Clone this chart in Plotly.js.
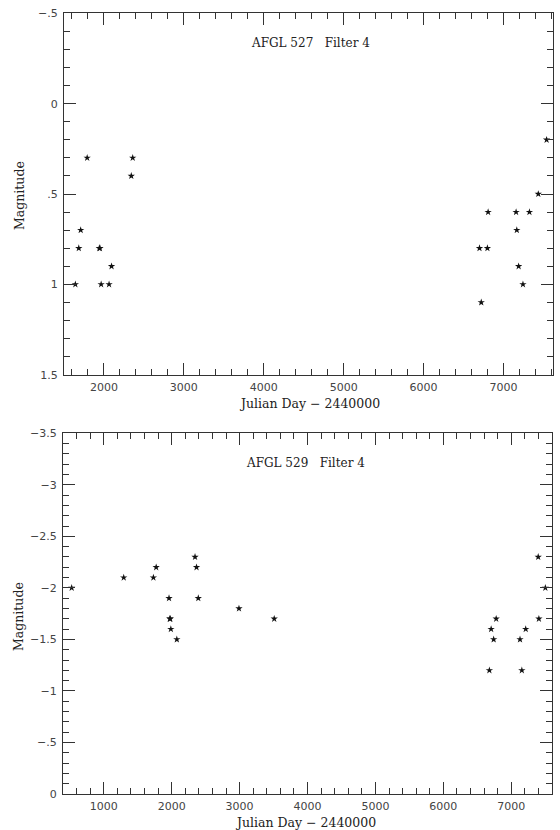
<!DOCTYPE html>
<html>
<head>
<meta charset="utf-8">
<script src="https://cdn.plot.ly/plotly-3.0.1.min.js"></script>
<style>html,body{margin:0;padding:0;background:#fff;}#chart{width:560px;height:830px;}</style>
</head>
<body>
<div id="chart"></div>
<script>
// AFGL 527, Filter 4
const jd527 = [1642, 1685, 1709, 1790, 1942, 1950, 1965, 2064, 2095, 2342, 2360,
               6700, 6722, 6799, 6808, 7158, 7167, 7190, 7244, 7325, 7436, 7540];
const mag527 = [1.0, 0.8, 0.7, 0.3, 0.8, 0.8, 1.0, 1.0, 0.9, 0.4, 0.3,
                0.8, 1.1, 0.8, 0.6, 0.6, 0.7, 0.9, 1.0, 0.6, 0.5, 0.2];

// AFGL 529, Filter 4
const jd529 = [528, 1294, 1731, 1772, 1961, 1972, 1980, 1988, 2076, 2344, 2366, 2392, 2991, 3510,
               6678, 6704, 6741, 6778, 7129, 7156, 7213, 7397, 7407, 7502];
const mag529 = [-2.0, -2.1, -2.1, -2.2, -1.9, -1.7, -1.7, -1.6, -1.5, -2.3, -2.2, -1.9, -1.8, -1.7,
                -1.2, -1.6, -1.5, -1.7, -1.5, -1.2, -1.6, -2.3, -1.7, -2.0];

const yTickVals527 = [-0.5, 0, 0.5, 1, 1.5];
const yTickText527 = ["\u2212.5", "0", ".5", "1", "1.5"];
const yTickVals529 = [-3.5, -3, -2.5, -2, -1.5, -1, -0.5, 0];
const yTickText529 = ["\u22123.5", "\u22123", "\u22122.5", "\u22122", "\u22121.5", "\u22121", "\u2212.5", "0"];

const title527 = "AFGL 527\u00a0\u00a0\u00a0Filter 4";
const title529 = "AFGL 529\u00a0\u00a0\u00a0Filter 4";
const xTitle = "Julian Day \u2212 2440000";
const yTitle = "Magnitude";

const W = 560, H = 830;
const ink = '#333';
const serif = {family: 'DejaVu Serif, serif', size: 12, color: '#222'};
const axisTitleFont = {family: 'DejaVu Serif, serif', size: 12.5, color: '#222'};
const tickFont = {family: 'DejaVu Sans, sans-serif', size: 11, color: '#444'};

const marker = {symbol: 'star', size: 5.5, color: '#111', line: {width: 0}};

const traces = [
  {x: jd527, y: mag527, xaxis: 'x', yaxis: 'y', type: 'scatter', mode: 'markers', marker: marker, showlegend: false},
  {x: jd529, y: mag529, xaxis: 'x2', yaxis: 'y2', type: 'scatter', mode: 'markers', marker: marker, showlegend: false}
];

function xAxis(domain, range, anchor) {
  return {
    domain: domain, range: range, anchor: anchor,
    tickmode: 'linear', tick0: 0, dtick: 1000,
    ticks: 'inside', ticklen: 12, tickwidth: 1, tickcolor: ink,
    minor: {tickmode: 'linear', tick0: 0, dtick: 200, ticks: 'inside', ticklen: 6, tickwidth: 1, tickcolor: ink},
    mirror: 'ticks', showline: true, linecolor: ink, linewidth: 1,
    showgrid: false, zeroline: false, automargin: false,
    ticklabelstandoff: 2,
    tickfont: tickFont
  };
}
function yAxis(domain, range, vals, text, anchor) {
  return {
    domain: domain, range: range, anchor: anchor,
    tickmode: 'array', tickvals: vals, ticktext: text,
    ticks: 'inside', ticklen: 12, tickwidth: 1, tickcolor: ink,
    minor: {tickmode: 'linear', tick0: 0, dtick: 0.1, ticks: 'inside', ticklen: 6, tickwidth: 1, tickcolor: ink},
    mirror: 'ticks', showline: true, linecolor: ink, linewidth: 1,
    showgrid: false, zeroline: false, automargin: false,
    ticklabelstandoff: 3,
    tickfont: tickFont
  };
}

function note(text, x, y, font, angle) {
  return {text: text, xref: 'paper', yref: 'paper', x: x / W, y: 1 - y / H,
          showarrow: false, font: font, xanchor: 'center', yanchor: 'middle', textangle: angle || 0};
}

const layout = {
  width: W, height: H,
  margin: {l: 0, r: 0, t: 0, b: 0},
  paper_bgcolor: '#fff', plot_bgcolor: '#fff',
  xaxis: xAxis([64 / W, 553 / W], [1500, 7620], 'y'),
  yaxis: yAxis([1 - 374.7 / H, 1 - 13.3 / H], [1.5, -0.5], yTickVals527, yTickText527, 'x'),
  xaxis2: xAxis([63 / W, 552 / W], [400, 7600], 'y2'),
  yaxis2: yAxis([1 - 794 / H, 1 - 433.3 / H], [0, -3.5], yTickVals529, yTickText529, 'x2'),
  annotations: [
    note(title527, 310, 43, serif),
    note(title529, 306, 463, serif),
    note(xTitle, 309, 403, axisTitleFont),
    note(xTitle, 306, 822, axisTitleFont),
    note(yTitle, 20, 196, axisTitleFont, -90),
    note(yTitle, 18, 617, axisTitleFont, -90)
  ]
};

Plotly.newPlot('chart', traces, layout, {staticPlot: true, displayModeBar: false});
</script>
</body>
</html>
